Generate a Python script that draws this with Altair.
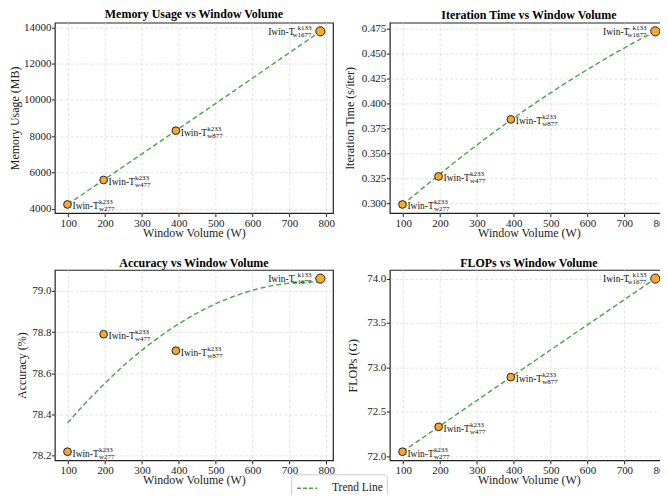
import altair as alt
import pandas as pd

# ---- data ----
window = [98, 196, 392, 784]
memory = [4230, 5580, 8300, 13780]
iter_time = [0.299, 0.327, 0.384, 0.472]
accuracy = [78.22, 78.79, 78.71, 79.06]
flops = [72.05, 72.33, 72.89, 74.0]
sup_text = ["k233", "k233", "k233", "k133"]
sub_text = ["w277", "w477", "w877", "w1677"]
main_text = ["Iwin-T", "Iwin-T", "Iwin-T", "Iwin-T"]
x_ticks = [100, 200, 300, 400, 500, 600, 700, 800]

df = pd.DataFrame({
    "window": window,
    "memory": memory,
    "iter_time": iter_time,
    "accuracy": accuracy,
    "flops": flops,
    "sup": sup_text,
    "sub": sub_text,
    "main": main_text,
    "idx": list(range(len(window))),
    "last": [False, False, False, True],
})

FONT = "Liberation Serif"
ORANGE = "#f5a82c"
GREEN = "#44a844"

panels_spec = [
    ("memory", "Memory Usage vs Window Volume", "Memory Usage (MB)",
     [3752.5, 14257.5], [4000, 6000, 8000, 10000, 12000, 14000], "d", 30, 3),
    ("iter_time", "Iteration Time vs Window Volume", "Iteration Time (s/iter)",
     [0.29035, 0.48065], [0.300, 0.325, 0.350, 0.375, 0.400, 0.425, 0.450, 0.475], ".3f", 30, 3),
    ("accuracy", "Accuracy vs Window Volume", "Accuracy (%)",
     [78.178, 79.102], [78.2, 78.4, 78.6, 78.8, 79.0], ".1f", 24, 2),
    ("flops", "FLOPs vs Window Volume", "FLOPs (G)",
     [71.9525, 74.0975], [72.0, 72.5, 73.0, 73.5, 74.0], ".1f", 24, 6),
]


def make_panel(field, title, ytitle, ydom, yticks, fmt, extent, tpad):
    x = alt.X("window:Q",
              scale=alt.Scale(domain=[63.7, 818.3], nice=False, zero=False),
              axis=alt.Axis(values=x_ticks, title="Window Volume (W)", format="d"))
    y = alt.Y(f"{field}:Q",
              scale=alt.Scale(domain=ydom, nice=False, zero=False),
              axis=alt.Axis(values=yticks, title=ytitle, format=fmt,
                            minExtent=extent, maxExtent=extent, titlePadding=tpad))
    base = alt.Chart(df)

    trend = base.transform_regression(
        "window", field, method="poly", order=2
    ).transform_calculate(series="'Trend Line'").mark_line(
        strokeDash=[5, 3], strokeWidth=1.4
    ).encode(
        x=x, y=y,
        color=alt.Color("series:N",
                        scale=alt.Scale(domain=["Trend Line"], range=[GREEN]),
                        legend=alt.Legend(title=None, orient="none",
                                          legendX=237, legendY=453,
                                          symbolType="stroke",
                                          symbolDash=[4, 2],
                                          symbolStrokeWidth=1.5,
                                          symbolSize=400,
                                          symbolOffset=2,
                                          labelOffset=14,
                                          labelFontSize=11.5,
                                          labelFont=FONT,
                                          labelColor="#222",
                                          strokeColor="#cccccc",
                                          cornerRadius=3,
                                          padding=3,
                                          fillColor="white")),
    )

    pts = base.mark_point(filled=True, fill=ORANGE, stroke="#222222",
                          strokeWidth=1, opacity=1).encode(
        x=x, y=y,
        size=alt.Size("last:N", scale=alt.Scale(domain=[False, True], range=[60, 85]), legend=None),
    )

    left = base.transform_filter("datum.idx < 3")
    right = base.transform_filter("datum.idx == 3")

    main_l = left.mark_text(align="left", baseline="middle", dx=5, dy=2,
                            fontSize=9.5, font=FONT, color="#111").encode(x=x, y=y, text="main:N")
    sup_l = left.mark_text(align="left", baseline="middle", dx=31.5, dy=-2,
                           fontSize=7, font=FONT, color="#111").encode(x=x, y=y, text="sup:N")
    sub_l = left.mark_text(align="left", baseline="middle", dx=31.5, dy=5,
                           fontSize=7, font=FONT, color="#111").encode(x=x, y=y, text="sub:N")

    main_r = right.mark_text(align="right", baseline="middle", dx=-26, dy=0.5,
                             fontSize=9.5, font=FONT, color="#111").encode(x=x, y=y, text="main:N")
    sup_r = right.mark_text(align="right", baseline="middle", dx=-9, dy=-3.5,
                            fontSize=7, font=FONT, color="#111").encode(x=x, y=y, text="sup:N")
    sub_r = right.mark_text(align="right", baseline="middle", dx=-9, dy=3.5,
                            fontSize=7, font=FONT, color="#111").encode(x=x, y=y, text="sub:N")

    return alt.layer(trend, pts, main_l, sup_l, sub_l, main_r, sup_r, sub_r).properties(
        width=279, height=191,
        title=alt.TitleParams(title, fontSize=12, font=FONT, fontWeight="bold",
                              offset=0, color="#000"),
    )


panels = [make_panel(*p) for p in panels_spec]

chart = alt.concat(*panels, columns=2, spacing={"row": 17, "column": 7}).properties(
    padding={"left": 0, "top": -1, "right": -11, "bottom": -4},
).configure_view(
    stroke="#222222", strokeWidth=1.2
).configure_axis(
    domain=False,
    ticks=True, tickSize=3.5, tickColor="#222", tickWidth=1,
    labelPadding=0.5, labelFont=FONT, labelFontSize=11, labelColor="#222",
    titleFont=FONT, titleFontSize=12, titleFontWeight="normal", titleColor="#222",
    grid=True, gridColor="#dcdcdc", gridDash=[3, 2], gridWidth=0.8,
).configure_axisX(
    titlePadding=-1,
)

chart.save("out.html", embed_options={"renderer": "svg", "actions": False})
